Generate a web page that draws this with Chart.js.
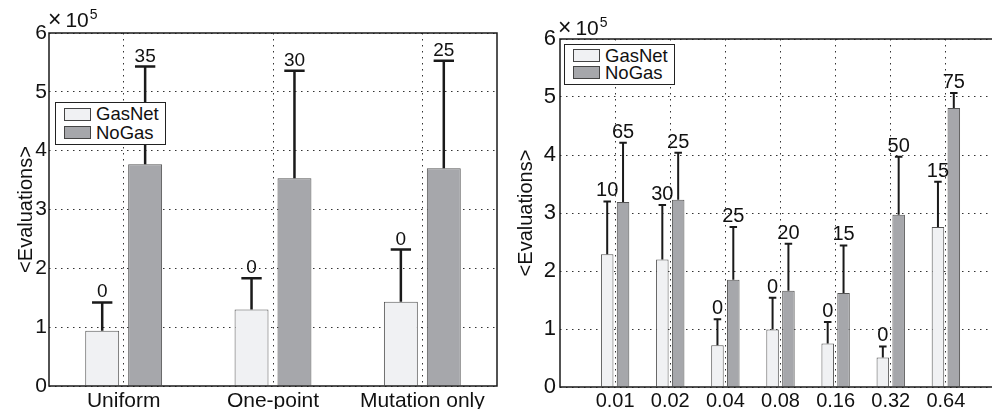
<!DOCTYPE html>
<html>
<head>
<meta charset="utf-8">
<script src="https://cdn.jsdelivr.net/npm/chart.js@4.4.0/dist/chart.umd.min.js"></script>
<style>
  html, body { margin: 0; padding: 0; background: #fff; overflow: hidden; }
  body { width: 992px; height: 409px; position: relative; font-family: "Liberation Sans", Arial, sans-serif; }
  .panel { position: absolute; top: 0; height: 409px; }
  .legend { position: absolute; background: #fff; border: 1px solid #222; box-sizing: border-box;
            padding: 2px 6px 2px 8px; font-size: 18.5px; color: #111; }
  .legend .row { display: flex; align-items: center; }
  .legend .patch { width: 27px; height: 13px; border: 1px solid #444; box-sizing: border-box; margin-right: 5px; }
  .expo { position: absolute; font-size: 21px; line-height: 21px; color: #111; white-space: nowrap; }
  .expo .times { font-size: 23px; margin-right: 4px; }
  .expo sup { font-size: 14px; line-height: 0; vertical-align: 8px; margin-left: 1px; }
</style>
</head>
<body>
<div class="panel" style="left:0;width:500px"><canvas id="left" width="500" height="409"></canvas></div>
<div class="panel" style="left:500px;width:501px"><canvas id="right" width="501" height="409"></canvas></div>
<div class="legend" id="legLeft" style="left:55px;top:102px;"></div>
<div class="legend" id="legRight" style="left:564px;top:44px;"></div>
<div class="expo" style="left:48px;top:9px;"><span class="times">&times;</span>10<sup>5</sup></div>
<div class="expo" style="left:558px;top:17px;"><span class="times">&times;</span>10<sup>5</sup></div>

<script>
const FONT = '"Liberation Sans", Arial, sans-serif';

// series
const seriesNames = ["GasNet", "NoGas"];
const seriesFill = ["#f0f1f3", "#a6a7ab"];
const edgeColor = "#555";

// left panel: crossover type (mean evaluations, top of error bar, % not solved)
const crossLabels = ["Uniform", "One-point", "Mutation only"];
const crossGasMean = [94000, 130000, 143000];
const crossGasTop = [142000, 183000, 232000];
const crossGasPct = [0, 0, 0];
const crossNoGasMean = [377000, 353000, 370000];
const crossNoGasTop = [543000, 536000, 553000];
const crossNoGasPct = [35, 30, 25];

// right panel: mutation rate
const rateLabels = ["0.01", "0.02", "0.04", "0.08", "0.16", "0.32", "0.64"];
const rateGasMean = [229000, 220000, 72000, 99000, 75000, 51000, 276000];
const rateGasTop = [320000, 314000, 117000, 154000, 112000, 70000, 354000];
const rateGasPct = [10, 30, 0, 0, 0, 0, 15];
const rateNoGasMean = [319000, 323000, 185000, 166000, 162000, 297000, 481000];
const rateNoGasTop = [421000, 404000, 276000, 247000, 244000, 397000, 507000];
const rateNoGasPct = [65, 25, 25, 20, 15, 50, 75];

// y axis ticks, in units of 10^5
const yTicks = [0, 1, 2, 3, 4, 5, 6];
const yScaleExp = 100000;

/* ------------------------------
   PLUGINS
--------------------------------*/
const errorBars = {
  id: "errorBars",
  afterDatasetsDraw(chart, args, opts) {
    const ctx = chart.ctx;
    const y = chart.scales.y;
    chart.data.datasets.forEach((ds, di) => {
      const meta = chart.getDatasetMeta(di);
      meta.data.forEach((bar, i) => {
        const yTop = y.getPixelForValue(ds.errTop[i]);
        const cap = bar.width * opts.cap;
        ctx.save();
        ctx.strokeStyle = "#1a1a1a";
        ctx.lineWidth = opts.lineWidth;
        ctx.beginPath();
        ctx.moveTo(bar.x, bar.y);
        ctx.lineTo(bar.x, yTop);
        ctx.moveTo(bar.x - cap / 2, yTop);
        ctx.lineTo(bar.x + cap / 2, yTop);
        ctx.stroke();
        ctx.fillStyle = "#111";
        ctx.font = opts.font;
        ctx.textAlign = "center";
        ctx.textBaseline = "alphabetic";
        ctx.fillText(String(ds.pct[i]), bar.x, yTop - 5);
        ctx.restore();
      });
    });
  }
};

const frame = {
  id: "frame",
  afterDraw(chart) {
    const ctx = chart.ctx;
    const a = chart.chartArea;
    ctx.save();
    ctx.strokeStyle = "#1a1a1a";
    ctx.lineWidth = 1.5;
    ctx.strokeRect(a.left, a.top, a.right - a.left, a.bottom - a.top);
    ctx.restore();
  }
};

function makeDatasets(means, tops, pcts, xs) {
  return [0, 1].map(k => ({
    label: seriesNames[k],
    data: xs ? means[k].map((v, i) => ({ x: xs[i], y: v })) : means[k],
    errTop: tops[k],
    pct: pcts[k],
    backgroundColor: seriesFill[k],
    borderColor: edgeColor,
    borderWidth: 1,
    categoryPercentage: 0.575,
    barPercentage: 0.79
  }));
}

function yScale(width, fontSize, pad) {
  return {
    min: 0, max: 6 * yScaleExp,
    afterBuildTicks: s => { s.ticks = yTicks.map(t => ({ value: t * yScaleExp })); },
    ticks: { callback: v => v / yScaleExp, font: { family: FONT, size: fontSize }, color: "#111", padding: pad },
    grid: { color: "#333", drawTicks: false },
    border: { display: false, dash: [1.5, 4.5] },
    title: { display: true, text: "<Evaluations>", font: { family: FONT, size: 20 }, color: "#111",
             padding: { top: 14, bottom: 0 } },
    afterFit: s => { s.width = width; }
  };
}

/* ------------------------------
   LEFT CHART
--------------------------------*/
new Chart(document.getElementById("left"), {
  type: "bar",
  data: {
    labels: crossLabels,
    datasets: makeDatasets([crossGasMean, crossNoGasMean], [crossGasTop, crossNoGasTop], [crossGasPct, crossNoGasPct])
  },
  options: {
    responsive: false, animation: false, devicePixelRatio: 1,
    layout: { padding: { top: 33, right: 3, left: 0, bottom: 0 } },
    plugins: {
      legend: { display: false }, tooltip: { enabled: false },
      errorBars: { cap: 0.6, lineWidth: 2.5, font: "19px " + FONT }
    },
    scales: {
      x: {
        offset: true,
        ticks: { font: { family: FONT, size: 21 }, color: "#111", padding: 3, maxRotation: 0, autoSkip: false },
        grid: { color: "#333", drawTicks: false, offset: false },
        border: { display: false, dash: [1.5, 4.5] },
        afterFit: s => { s.height = 23; }
      },
      y: yScale(49, 21, 2)
    }
  },
  plugins: [errorBars, frame]
});

/* ------------------------------
   RIGHT CHART
--------------------------------*/
const ratePos = rateLabels.map((_, i) => i + 1);

new Chart(document.getElementById("right"), {
  type: "bar",
  data: {
    datasets: makeDatasets([rateGasMean, rateNoGasMean], [rateGasTop, rateNoGasTop], [rateGasPct, rateNoGasPct], ratePos)
  },
  options: {
    responsive: false, animation: false, devicePixelRatio: 1,
    layout: { padding: { top: 39, right: 0, left: 0, bottom: 0 } },
    plugins: {
      legend: { display: false }, tooltip: { enabled: false },
      errorBars: { cap: 0.6, lineWidth: 2, font: "20px " + FONT }
    },
    scales: {
      x: {
        type: "linear", min: 0, max: 8, offset: false,
        afterBuildTicks: s => { s.ticks = ratePos.map(v => ({ value: v })); },
        ticks: { callback: v => rateLabels[v - 1], font: { family: FONT, size: 20 }, color: "#111",
                 padding: 2, maxRotation: 0, autoSkip: false },
        grid: { color: "#333", drawTicks: false, offset: false },
        border: { display: false, dash: [1.5, 4.5] },
        afterFit: s => { s.height = 22; }
      },
      y: yScale(60, 22, 4)
    }
  },
  plugins: [errorBars, frame]
});

/* ------------------------------
   LEGENDS (html boxes inside plots)
--------------------------------*/
function buildLegend(id, rowHeight) {
  const el = document.getElementById(id);
  el.innerHTML = seriesNames.map((n, k) =>
    `<div class="row" style="height:${rowHeight}px"><span class="patch" style="background:${seriesFill[k]}"></span>${n}</div>`
  ).join("");
}
buildLegend("legLeft", 18.5);
buildLegend("legRight", 17.3);
</script>
</body>
</html>
